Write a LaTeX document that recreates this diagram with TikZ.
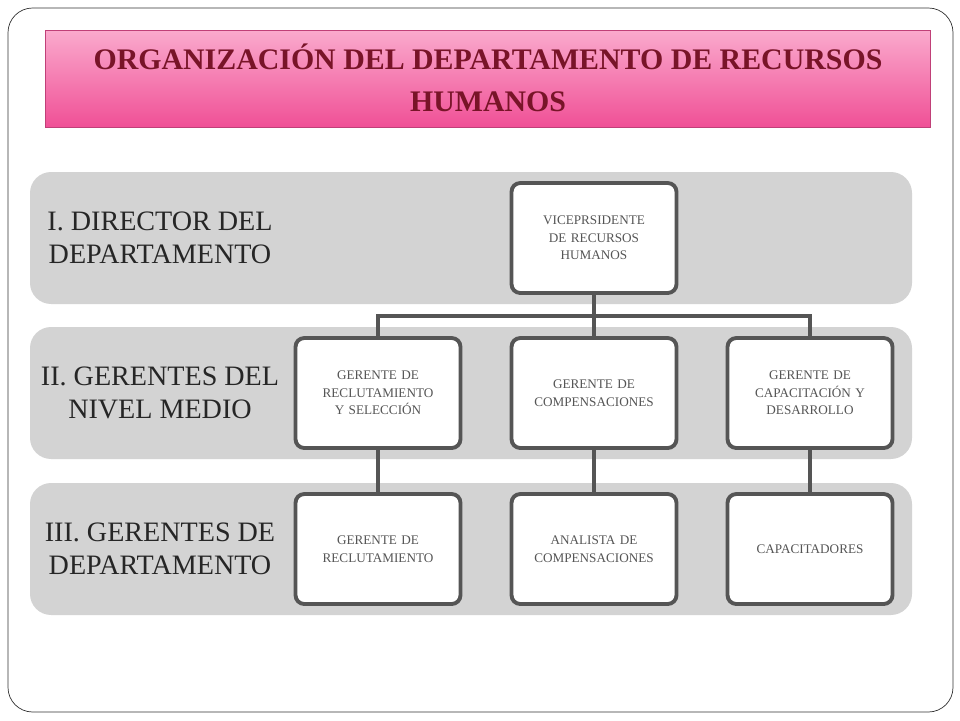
\documentclass[tikz,border=0pt]{standalone}
\usepackage{fontspec}
\setmainfont{Liberation Serif}
\usetikzlibrary{positioning}
\definecolor{band}{RGB}{211,211,211}
\definecolor{boxline}{RGB}{85,85,85}
\definecolor{titlered}{RGB}{120,20,40}
\definecolor{pinktop}{RGB}{250,170,205}
\definecolor{pinkbot}{RGB}{240,80,150}
\tikzset{
  levelband/.style={fill=band, rounded corners=12pt, draw=none},
  levellabel/.style={font=\fontsize{16}{19}\selectfont, align=center, text=black!85},
  orgbox/.style={draw=boxline, line width=2.2pt, fill=white, rounded corners=5pt,
     minimum width=3.3cm, minimum height=2.2cm, text width=3cm, align=center,
     font=\fontsize{7.5}{10}\selectfont, text=boxline},
  link/.style={draw=boxline, line width=2.6pt}
}
\begin{document}
\begin{tikzpicture}[x=0.02cm,y=-0.02cm]
  \useasboundingbox (0,0) rectangle (960,720);
  \draw[black!80, rounded corners=14pt] (8,8) rectangle (953,712);
  % title
  \shade[top color=pinktop, bottom color=pinkbot, draw=pinkbot!80!black] (45,30) rectangle (930,127);
  \node[font=\bfseries\fontsize{17}{24}\selectfont, text=titlered, align=center] (title) at (488,78)
    {ORGANIZACIÓN DEL DEPARTAMENTO DE RECURSOS\\HUMANOS};
  % bands
  \fill[levelband] (30,172) rectangle (912,304);
  \fill[levelband] (30,327) rectangle (912,459);
  \fill[levelband] (30,483) rectangle (912,615);
  \node[levellabel] (lvl1) at (160,238) {I. DIRECTOR DEL\\DEPARTAMENTO};
  \node[levellabel] (lvl2) at (160,393) {II. GERENTES DEL\\NIVEL MEDIO};
  \node[levellabel] (lvl3) at (160,549) {III. GERENTES DE\\DEPARTAMENTO};
  % boxes
  \node[orgbox] (vp) at (594,238) {VICEPRSIDENTE\\DE RECURSOS\\HUMANOS};
  \node[orgbox] (rys) at (378,393) {GERENTE DE\\RECLUTAMIENTO\\Y SELECCIÓN};
  \node[orgbox] (comp) at (594,393) {GERENTE DE\\COMPENSACIONES};
  \node[orgbox] (cyd) at (810,393) {GERENTE DE\\CAPACITACIÓN Y\\DESARROLLO};
  \node[orgbox] (recl) at (378,549) {GERENTE DE\\RECLUTAMIENTO};
  \node[orgbox] (anal) at (594,549) {ANALISTA DE\\COMPENSACIONES};
  \node[orgbox] (capa) at (810,549) {CAPACITADORES};
  % connectors
  \coordinate (bus) at (594,316);
  \draw[link] (vp.south) -- (bus);
  \draw[link] (rys.north) |- (bus) -| (cyd.north);
  \draw[link] (bus) -- (comp.north);
  \draw[link] (rys) -- (recl);
  \draw[link] (comp) -- (anal);
  \draw[link] (cyd) -- (capa);
\end{tikzpicture}
\end{document}
